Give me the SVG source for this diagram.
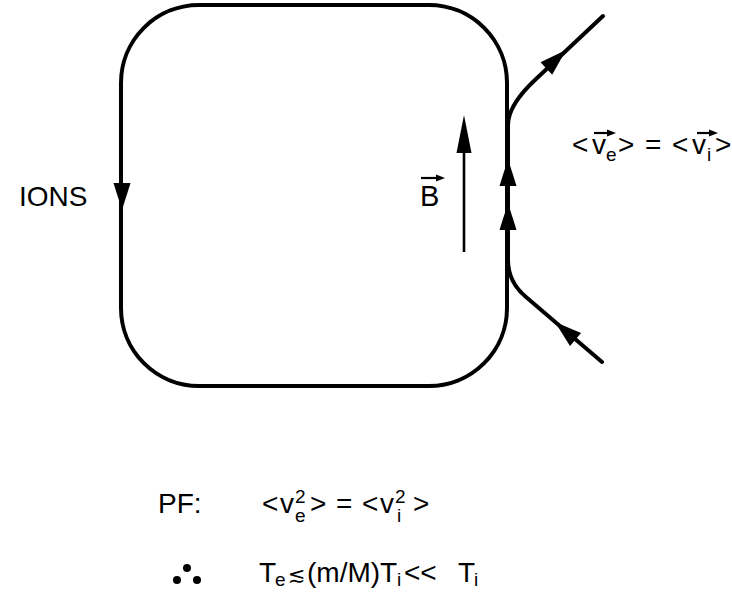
<svg xmlns="http://www.w3.org/2000/svg" width="732" height="594" viewBox="0 0 732 594">
<style>
.ln{fill:none;stroke:#000;stroke-width:4;stroke-linecap:round;stroke-linejoin:round}
.thin{fill:none;stroke:#000;stroke-width:2.6}
.t{font-family:"Liberation Sans",Arial,"DejaVu Sans",sans-serif;font-size:28px;fill:#000}
.s{font-size:19px}
.ah{fill:#000}
</style>
<defs>
<path id="ah" d="M0,0 L-8.5,27 L8.5,27 Z"/>
</defs>
<rect width="732" height="594" fill="#fff"/>
<g id="ion-loop">
<rect class="ln" x="121" y="5" width="386" height="381" rx="78" ry="78"/>
<use href="#ah" class="ah" transform="translate(122,210) rotate(180)"/>
</g>
<g id="connectors">
<path class="ln" d="M603,16 L536,79 Q508,105 508,125 L508,260 Q508,282 526,297 L602,362"/>
<use href="#ah" class="ah" transform="translate(566,50) rotate(46.7)"/>
<use href="#ah" class="ah" transform="translate(508,159)"/>
<use href="#ah" class="ah" transform="translate(508,203)"/>
<use href="#ah" class="ah" transform="translate(555,322) rotate(-49.5)"/>
</g>
<g id="b-field">
<line class="thin" x1="464" y1="252" x2="464" y2="140"/>
<path class="ah" d="M464,115 L456.5,153 L471.5,153 Z"/>
<text class="t" x="420" y="206" style="font-size:29px">B</text>
<path d="M421,178 L438,178" stroke="#000" stroke-width="2.2"/>
<path class="ah" d="M436,174.5 L445,178 L436,181.5 Z"/>
</g>
<g id="label-ions">
<text class="t" x="19" y="206">IONS</text>
</g>
<g id="label-velocity">
<text class="t" y="154"><tspan x="572">&lt;</tspan><tspan x="592">v</tspan><tspan class="s" x="606" y="161">e</tspan><tspan x="618" y="154">&gt;</tspan><tspan x="645">=</tspan><tspan x="672">&lt;</tspan><tspan x="692">v</tspan><tspan class="s" x="707" y="161">i</tspan><tspan x="715" y="154">&gt;</tspan></text>
<path d="M594,133 L609,133" stroke="#000" stroke-width="2.2"/>
<path class="ah" d="M607,129.5 L616,133 L607,136.5 Z"/>
<path d="M697,133 L711,133" stroke="#000" stroke-width="2.2"/>
<path class="ah" d="M709,129.5 L718,133 L709,136.5 Z"/>
</g>
<g id="label-pf">
<text class="t" x="158" y="513">PF:</text>
<text class="t" y="513"><tspan x="262">&lt;</tspan><tspan x="280">v</tspan><tspan class="s" x="295" y="503">2</tspan><tspan class="s" x="295" y="522">e</tspan><tspan x="310" y="513">&gt;</tspan><tspan x="336">=</tspan><tspan x="362">&lt;</tspan><tspan x="380">v</tspan><tspan class="s" x="395" y="503">2</tspan><tspan class="s" x="397" y="522">i</tspan><tspan x="413" y="513">&gt;</tspan></text>
</g>
<g id="label-therefore">
<circle cx="187" cy="568" r="4"/>
<circle cx="177" cy="580" r="4"/>
<circle cx="197" cy="580" r="4"/>
<text class="t" y="582"><tspan x="259">T</tspan><tspan class="s" x="275" y="586">e</tspan><tspan x="288" y="582" style="font-family:'DejaVu Sans',sans-serif;font-size:21px">≲</tspan><tspan x="307">(m/M)T</tspan><tspan class="s" x="397" y="586">i</tspan><tspan x="404" y="582">&lt;&lt;</tspan><tspan x="458">T</tspan><tspan class="s" x="474" y="586">i</tspan></text>
</g>
</svg>
